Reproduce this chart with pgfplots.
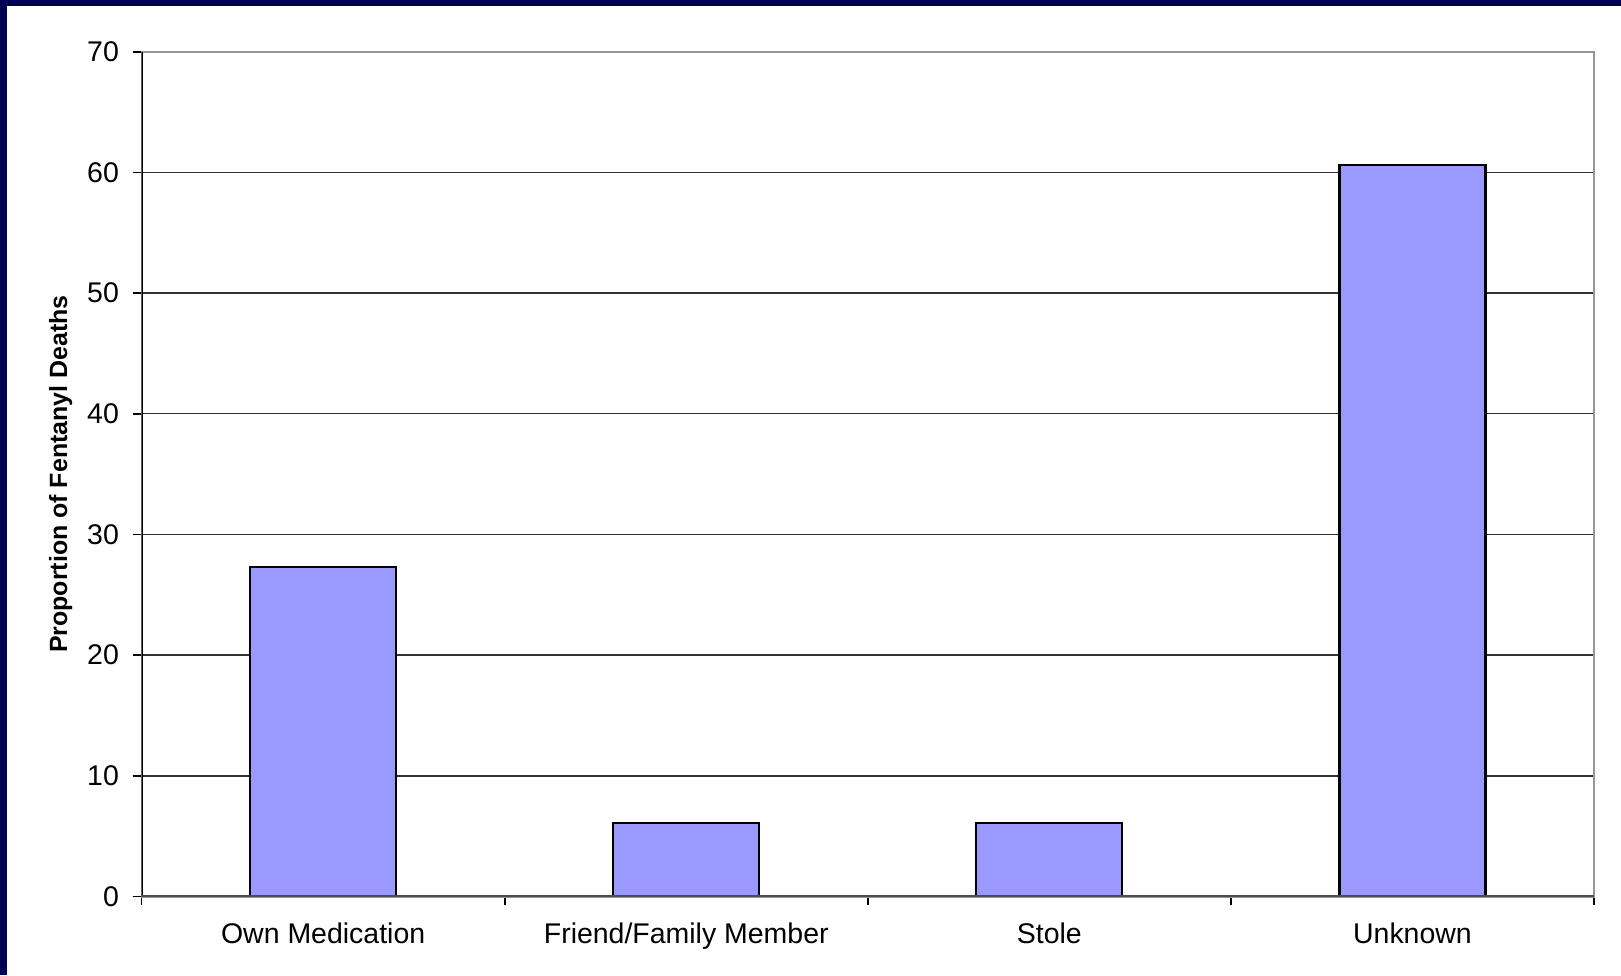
\documentclass[border=0pt]{standalone}
\usepackage{pgfplots}
\pgfplotsset{compat=1.18}
\usepackage{fontspec}
\setmainfont{Liberation Sans}
\definecolor{navy}{RGB}{0,0,80}
\definecolor{barfill}{RGB}{153,153,255}
\definecolor{frame}{RGB}{150,150,150}
\begin{document}
\begin{tikzpicture}[x=1mm,y=1mm]
\useasboundingbox (0,0) rectangle (162.1,97.5);
\fill[navy] (0,0) rectangle (162.1,97.5);
\fill[white] (0.7,0) rectangle (162.1,96.9);
\begin{axis}[
  at={(14.16mm,7.85mm)}, anchor=south west,
  scale only axis, width=145.24mm, height=84.48mm,
  xmin=0, xmax=4, ymin=0, ymax=70,
  ytick={0,10,...,70},
  xtick={0.5,1.5,2.5,3.5},
  xticklabels={Own Medication, Friend/Family Member, Stole, Unknown},
  minor xtick={0,1,2,3,4},
  major x tick style={draw=none},
  minor x tick style={black, line width=0.5pt},
  minor tick length=0.8mm,
  major tick length=0.9mm,
  y tick style={black, line width=0.5pt},
  tick align=outside,
  xtick pos=bottom, ytick pos=left,
  ymajorgrids, grid style={black!80, line width=0.4pt},
  axis line style={frame, line width=0.6pt},
  /pgf/number format/assume math mode=true,
  ticklabel style={font=\fontsize{8.1}{9.5}\selectfont},
  yticklabel style={inner sep=0pt, xshift=-1.3mm},
  xticklabel style={inner sep=0pt, anchor=north, yshift=-1.7mm},
  ylabel={Proportion of Fentanyl Deaths},
  ylabel style={font=\bfseries\fontsize{7.1}{8.5}\selectfont, at={([xshift=-8.1mm]rel axis cs:0,0.5)}, anchor=center},
  ybar, bar width=14.6mm,
]
\addplot[fill=barfill, draw=black, line width=0.6pt] coordinates {(0.5,27.27) (1.5,6.06) (2.5,6.06) (3.5,60.61)};
\draw[black, line width=0.6pt] (rel axis cs:0,0) -- (rel axis cs:0,1);
\draw[black!70, line width=0.6pt] (rel axis cs:0,0) -- (rel axis cs:1,0);
\end{axis}
\end{tikzpicture}
\end{document}
